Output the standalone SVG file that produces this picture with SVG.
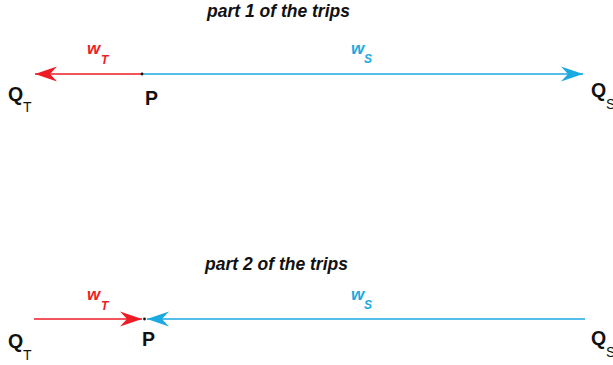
<svg xmlns="http://www.w3.org/2000/svg" width="613" height="365" viewBox="0 0 613 365">
<style>
.t{font-family:"Liberation Sans",Arial,sans-serif;font-style:italic;font-weight:bold;font-size:17.5px;fill:#111}
.lbl{font-family:"Liberation Sans",Arial,sans-serif;font-weight:bold;font-size:19.5px;fill:#111}
.sub{font-family:"Liberation Sans",Arial,sans-serif;font-size:14px;fill:#111}
.wr,.wb{font-family:"Liberation Sans",Arial,sans-serif;font-style:italic;font-weight:bold;font-size:17px}
.wrs,.wbs{font-family:"Liberation Sans",Arial,sans-serif;font-style:italic;font-weight:bold;font-size:12px}
.wr,.wrs{fill:#ee1c25}
.wb,.wbs{fill:#1ba9e1}
.red{stroke:#ee1c25;stroke-width:1.5;fill:none}
.blue{stroke:#1ba9e1;stroke-width:1.5;fill:none}
</style>
<defs>
<marker id="ar" markerWidth="23" markerHeight="16" refX="22" refY="8" orient="auto" markerUnits="userSpaceOnUse">
<path d="M0,0.5 L22,8 L0,15.5 L7,8 Z" fill="#ee1c25"/>
</marker>
<marker id="ab" markerWidth="23" markerHeight="16" refX="22" refY="8" orient="auto" markerUnits="userSpaceOnUse">
<path d="M0,0.5 L22,8 L0,15.5 L7,8 Z" fill="#1ba9e1"/>
</marker>
</defs>
<text class="t" x="207" y="17">part 1 of the trips</text>
<text class="t" x="205" y="270">part 2 of the trips</text>
<g id="connectors">
<line class="red" x1="142" y1="74" x2="35" y2="74" marker-end="url(#ar)"/>
<line class="blue" x1="142" y1="74" x2="583" y2="74" marker-end="url(#ab)"/>
<line class="red" x1="34" y1="319" x2="142" y2="319" marker-end="url(#ar)"/>
<line class="blue" x1="585" y1="319" x2="147" y2="319" marker-end="url(#ab)"/>
</g>
<g id="labels1">
<text class="wr" x="87" y="54">w</text><text class="wrs" x="101" y="64">T</text>
<text class="wb" x="351" y="54">w</text><text class="wbs" x="364" y="63">S</text>
</g>
<g id="labels2">
<text class="wr" x="87" y="300">w</text><text class="wrs" x="101" y="310">T</text>
<text class="wb" x="351" y="300">w</text><text class="wbs" x="364" y="309">S</text>
</g>
<g id="P1"><circle cx="142" cy="74" r="1.4" fill="#111"/><text class="lbl" x="145" y="105">P</text></g>
<g id="QT1"><text class="lbl" x="8" y="101">Q</text><text class="sub" x="23" y="112">T</text></g>
<g id="QS1"><text class="lbl" x="591" y="97">Q</text><text class="sub" x="606" y="109">S</text></g>
<g id="P2"><circle cx="144.5" cy="319" r="1.4" fill="#111"/><text class="lbl" x="142" y="346">P</text></g>
<g id="QT2"><text class="lbl" x="8" y="348">Q</text><text class="sub" x="23" y="360">T</text></g>
<g id="QS2"><text class="lbl" x="591" y="345">Q</text><text class="sub" x="606" y="357">S</text></g>
</svg>
